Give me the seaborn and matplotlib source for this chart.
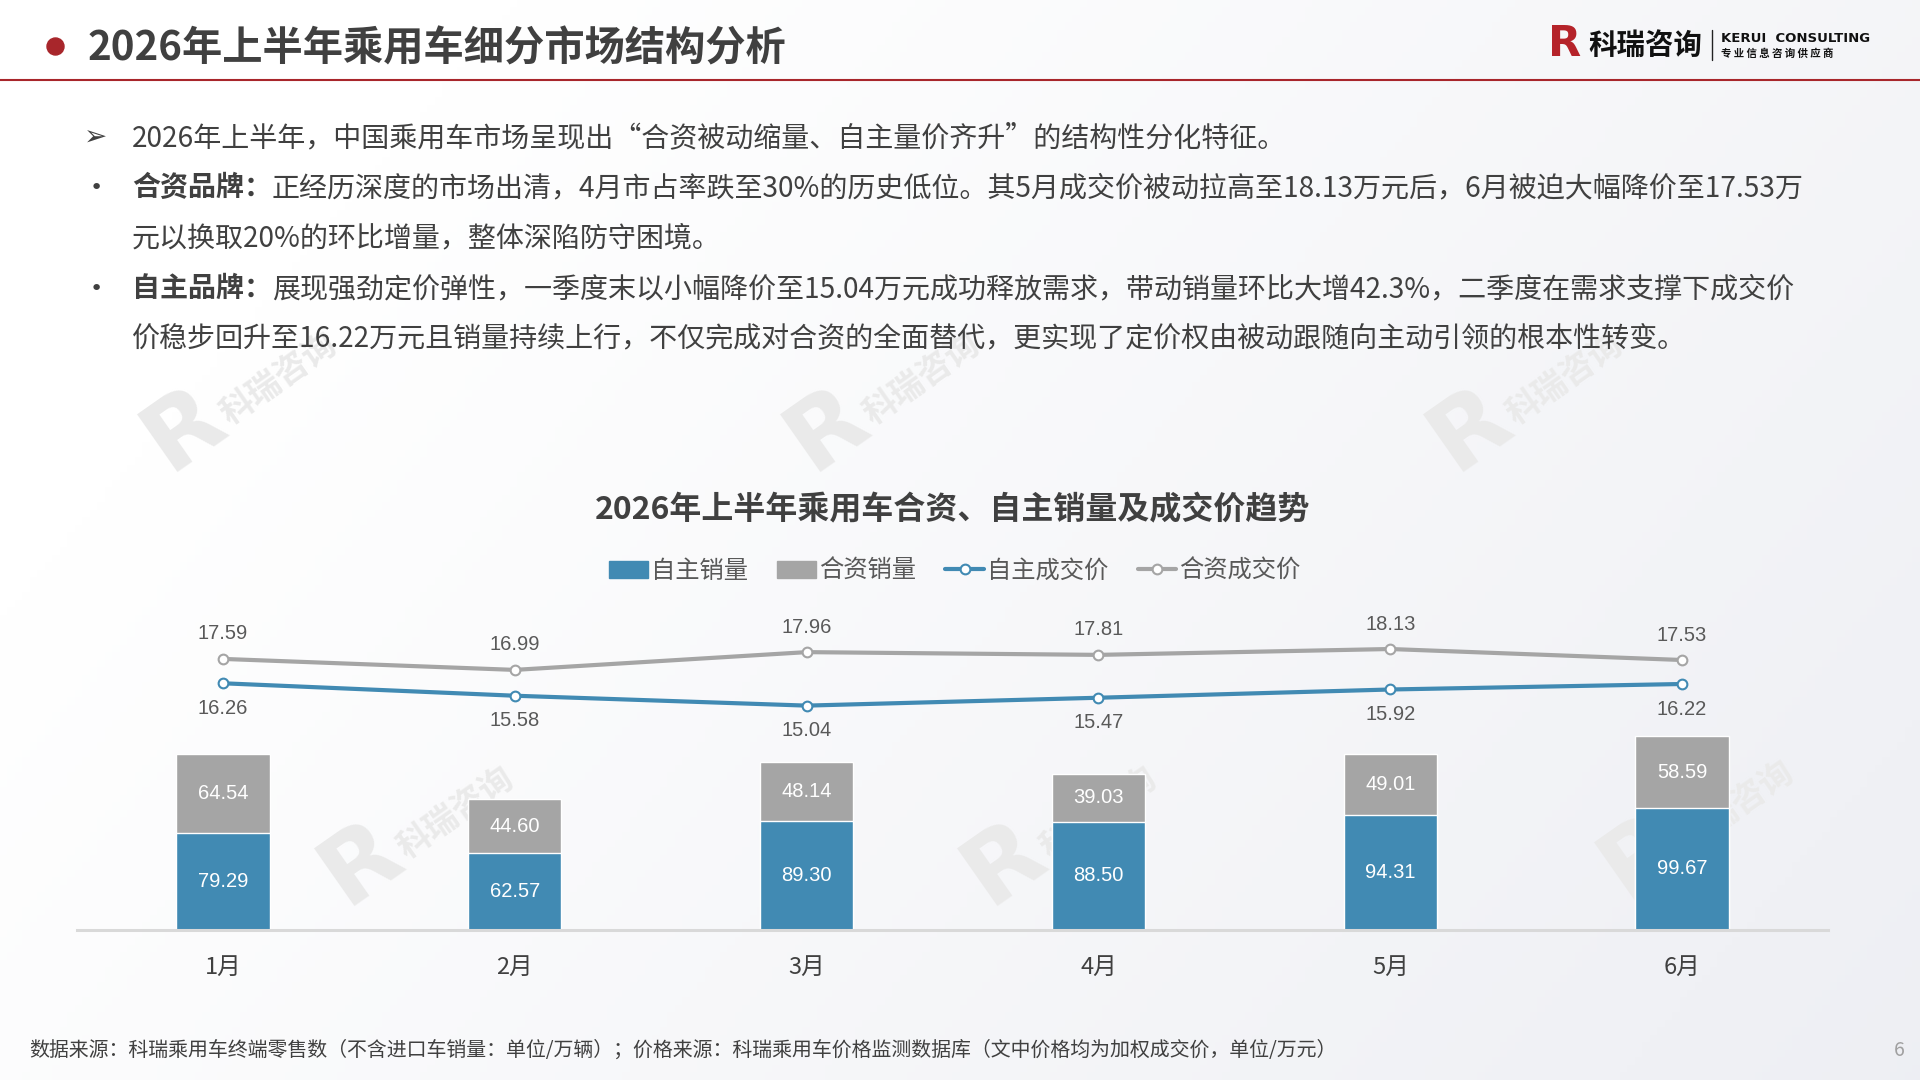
import matplotlib
matplotlib.use('Agg')
import matplotlib.pyplot as plt
import matplotlib.patches as mpatches
from matplotlib.lines import Line2D
import numpy as np
import pandas as pd
import seaborn as sns

# data
months = ['1月', '2月', '3月', '4月', '5月', '6月']
zz_sales = [79.29, 62.57, 89.30, 88.50, 94.31, 99.67]   # 自主销量 (万辆)
hz_sales = [64.54, 44.60, 48.14, 39.03, 49.01, 58.59]   # 合资销量 (万辆)
zz_price = [16.26, 15.58, 15.04, 15.47, 15.92, 16.22]   # 自主成交价 (万元)
hz_price = [17.59, 16.99, 17.96, 17.81, 18.13, 17.53]   # 合资成交价 (万元)

page_title = '2026年上半年乘用车细分市场结构分析'
chart_title = '2026年上半年乘用车合资、自主销量及成交价趋势'
legend_labels = ['自主销量', '合资销量', '自主成交价', '合资成交价']
bullets = [
    ('➢', '', '2026年上半年，中国乘用车市场呈现出“合资被动缩量、自主量价齐升”的结构性分化特征。'),
    ('•', '合资品牌：', '正经历深度的市场出清，4月市占率跌至30%的历史低位。其5月成交价被动拉高至18.13万元后，6月被迫大幅降价至17.53万'),
    ('', '', '元以换取20%的环比增量，整体深陷防守困境。'),
    ('•', '自主品牌：', '展现强劲定价弹性，一季度末以小幅降价至15.04万元成功释放需求，带动销量环比大增42.3%，二季度在需求支撑下成交价'),
    ('', '', '价稳步回升至16.22万元且销量持续上行，不仅完成对合资的全面替代，更实现了定价权由被动跟随向主动引领的根本性转变。'),
]
footer = '数据来源：科瑞乘用车终端零售数（不含进口车销量：单位/万辆）；价格来源：科瑞乘用车价格监测数据库（文中价格均为加权成交价，单位/万元）'

BLUE = '#418AB3'
GREY = '#A5A5A5'
TXT = '#404040'
LBL = '#595959'
RED = '#A8262B'

sns.set_theme(style='white')
plt.rcParams['font.family'] = ['Noto Sans CJK SC', 'DejaVu Sans']

W, H = 1920, 1080
fig = plt.figure(figsize=(19.2, 10.8), dpi=100)

# background layer in pixel coordinates
bg = fig.add_axes([0, 0, 1, 1], zorder=-10)
bg.set_xlim(0, W)
bg.set_ylim(H, 0)
bg.axis('off')
gx = np.linspace(0, 1, 256)
gy = np.linspace(0, 1, 144)
g = np.clip(0.75 * gx[None, :] + 0.35 * gy[:, None] - 0.2, 0, 1)
c0 = np.array([1.0, 1.0, 1.0])
c1 = np.array([0.925, 0.93, 0.95])
img = c0[None, None, :] * (1 - g[:, :, None]) + c1[None, None, :] * g[:, :, None]
bg.imshow(img, extent=[0, W, H, 0], aspect='auto', zorder=0)

# watermarks
for wx, wy in [(184, 429), (827, 429), (1470, 429), (361, 863), (1004, 863), (1641, 857)]:
    bg.text(wx, wy, 'R', fontsize=70, weight='bold', color='#EAEAEA', rotation=35,
            ha='center', va='center', family=['DejaVu Sans'], zorder=1)
    bg.text(wx + 95, wy - 50, '科瑞咨询', fontsize=24, weight='bold', color='#EAEAEA',
            rotation=35, ha='center', va='center', zorder=1)

# header
bg.scatter([55], [46], s=150, color=RED, zorder=3)
bg.text(88, 49, page_title, fontsize=29, weight='bold', color=TXT, va='center', zorder=3)
bg.plot([0, W], [80, 80], color=RED, lw=1.5, zorder=3)

# logo
bg.text(1565, 44, 'R', fontsize=31, weight='bold', color='#B5232A', ha='center', va='center',
        family=['DejaVu Sans'], zorder=3)
bg.text(1588, 46, '科瑞咨询', fontsize=20.5, weight='bold', color='#111111', va='center', zorder=3)
bg.plot([1712, 1712], [30, 60], color='#222222', lw=1, zorder=3)
bg.text(1721, 38, 'KERUI  CONSULTING', fontsize=9.5, weight='bold', color='#111111', va='center',
        family=['DejaVu Sans'], zorder=3)
bg.text(1721, 54, '专 业 信 息 咨 询 供 应 商', fontsize=7.5, weight='bold', color='#111111',
        va='center', zorder=3)

# bullet text
fig.canvas.draw()
renderer = fig.canvas.get_renderer()
line_y = [138, 188, 238, 289, 339]
for (mark, bold, body), y in zip(bullets, line_y):
    if mark:
        bg.text(96, y, mark, fontsize=20 if mark == '➢' else 16, color=TXT, ha='center',
                va='center', family=['DejaVu Sans'], zorder=3)
    x = 132
    if bold:
        tb = bg.text(x, y, bold, fontsize=20.2, weight='bold', color=TXT, va='center', zorder=3)
        x = tb.get_window_extent(renderer).x1
    bg.text(x, y, body, fontsize=20.2, color=TXT, va='center', zorder=3)

# chart title
bg.text(953, 510, chart_title, fontsize=23, weight='bold', color=TXT, ha='center', va='center', zorder=3)

# footer
bg.text(29, 1050, footer, fontsize=14.35, color=TXT, va='center', zorder=3)
bg.text(1899, 1050, '6', fontsize=14, color='#A0A0A0', ha='center', va='center', zorder=3)

# main chart
df = pd.DataFrame({'month': months, 'zz': zz_sales, 'hz': hz_sales})
df['total'] = df['zz'] + df['hz']

ax = fig.add_axes([77 / W, 1 - 930 / H, (1828 - 77) / W, 320 / H])
ax.patch.set_alpha(0)
sns.barplot(data=df, x='month', y='total', color=GREY, saturation=1, width=0.32,
            errorbar=None, ax=ax)
sns.barplot(data=df, x='month', y='zz', color=BLUE, saturation=1, width=0.32,
            errorbar=None, ax=ax)
ax.set_xlim(-0.5, 5.5)
ax.set_ylim(0, 261.3)
ax.set_xlabel('')
ax.set_ylabel('')
ax.set_yticks([])
ax.tick_params(axis='x', length=0, pad=19, labelsize=17, labelcolor=TXT)
for s in ['top', 'left', 'right']:
    ax.spines[s].set_visible(False)
ax.spines['bottom'].set_color('#D9D9D9')
ax.spines['bottom'].set_linewidth(2.2)

for i, (z, h) in enumerate(zip(zz_sales, hz_sales)):
    ax.text(i, z / 2, f'{z:.2f}', ha='center', va='center', color='white', fontsize=14.5,
            family=['Liberation Sans'])
    ax.text(i, z + h / 2, f'{h:.2f}', ha='center', va='center', color='white', fontsize=14.5,
            family=['Liberation Sans'])

ax2 = ax.twinx()
xs = np.arange(len(months))
sns.lineplot(x=xs, y=hz_price, color=GREY, lw=3, marker='o', markersize=7,
             markerfacecolor='white', markeredgecolor=GREY, markeredgewidth=1.5, ax=ax2)
sns.lineplot(x=xs, y=zz_price, color=BLUE, lw=3, marker='o', markersize=7,
             markerfacecolor='white', markeredgecolor=BLUE, markeredgewidth=1.5, ax=ax2)
ax2.set_ylim(2.79, 20.26)
ax2.set_yticks([])
ax2.set_ylabel('')
ax2.grid(False)
for s in ax2.spines.values():
    s.set_visible(False)

for i, (hp, zp) in enumerate(zip(hz_price, zz_price)):
    ax2.annotate(f'{hp:.2f}', (i, hp), xytext=(0, 18), textcoords='offset points', ha='center',
                 va='center', color=LBL, fontsize=14.5, family=['Liberation Sans'])
    ax2.annotate(f'{zp:.2f}', (i, zp), xytext=(0, -18), textcoords='offset points', ha='center',
                 va='center', color=LBL, fontsize=14.5, family=['Liberation Sans'])

# legend
handles = [
    mpatches.Patch(color=BLUE),
    mpatches.Patch(color=GREY),
    Line2D([], [], color=BLUE, lw=3, marker='o', markersize=7, markerfacecolor='white',
           markeredgecolor=BLUE, markeredgewidth=1.5),
    Line2D([], [], color=GREY, lw=3, marker='o', markersize=7, markerfacecolor='white',
           markeredgecolor=GREY, markeredgewidth=1.5),
]
fig.legend(handles, legend_labels, loc='center', bbox_to_anchor=(955 / W, 1 - 571 / H), ncol=4,
           frameon=False, fontsize=17.5, labelcolor=LBL, handlelength=1.6, handletextpad=0.12,
           columnspacing=1.2)

fig.savefig('out.png', dpi=100)
